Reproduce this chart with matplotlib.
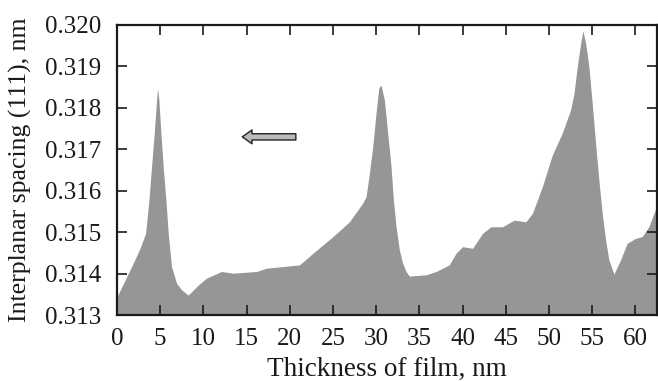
import matplotlib
matplotlib.use("Agg")
import matplotlib.pyplot as plt

thickness = [0.0, 1.88, 2.66, 3.31, 3.70, 4.00, 4.31, 4.58, 4.70, 4.85, 5.08, 5.35,
             5.66, 5.93, 6.31, 6.89, 7.47, 8.24, 9.39, 10.35, 12.09, 13.43, 16.13,
             17.28, 21.13, 22.67, 24.98, 26.9, 28.44, 28.83, 29.21, 29.60, 29.98,
             30.29, 30.56, 30.95, 31.33, 31.72, 31.99, 32.30, 32.68, 33.06, 33.45,
             33.83, 35.76, 36.92, 38.45, 39.23, 39.99, 41.15, 42.3, 43.27, 44.61,
             45.96, 47.31, 48.07, 49.23, 50.38, 51.53, 52.5, 52.89, 53.27, 53.66,
             53.93, 54.24, 54.62, 55.0, 55.39, 55.77, 56.16, 56.55, 56.93, 57.51,
             58.28, 59.04, 60.01, 60.77, 61.55, 62.5]
spacing = [0.31344, 0.31425, 0.31461, 0.31497, 0.31578, 0.31658, 0.31739, 0.31819,
           0.31847, 0.31819, 0.31739, 0.31658, 0.31578, 0.31497, 0.31417, 0.31377,
           0.31361, 0.31348, 0.31372, 0.31389, 0.31405, 0.31401, 0.31405, 0.31413,
           0.31421, 0.31449, 0.31489, 0.31525, 0.31570, 0.31586, 0.31642, 0.31706,
           0.31787, 0.31847, 0.31855, 0.31819, 0.31739, 0.31658, 0.31578, 0.31513,
           0.31457, 0.31425, 0.31405, 0.31394, 0.31397, 0.31405, 0.31421, 0.31449,
           0.31465, 0.31461, 0.31497, 0.31513, 0.31513, 0.31529, 0.31525, 0.31545,
           0.31610, 0.31686, 0.31739, 0.31795, 0.31835, 0.31899, 0.31956, 0.31986,
           0.31956, 0.31899, 0.31811, 0.31714, 0.31626, 0.31545, 0.31481, 0.31433,
           0.31399, 0.31433, 0.31473, 0.31485, 0.31489, 0.31513, 0.31565]
x_ticks = [0, 5, 10, 15, 20, 25, 30, 35, 40, 45, 50, 55, 60]
y_ticks = [0.313, 0.314, 0.315, 0.316, 0.317, 0.318, 0.319, 0.320]
arrow_tail = (20.7, 0.3173)
arrow_head = (14.5, 0.3173)

plt.rcParams['font.family'] = ['Liberation Serif', 'DejaVu Serif']
fig = plt.figure(figsize=(6.58, 3.81), dpi=100)
ax = fig.add_axes([0.1778, 0.1732, 0.8207, 0.7612])

ax.fill_between(thickness, 0.313, spacing, color='#969696', linewidth=0)
ax.set_xlim(0, 62.5)
ax.set_ylim(0.313, 0.320)
ax.set_xticks(x_ticks)
ax.set_yticks(y_ticks)
ax.set_yticklabels([f"{v:.3f}" for v in y_ticks])
ax.tick_params(direction='in', length=7, width=1.2, top=True, right=True,
               labelsize=18, colors='#1a1a1a')
ax.tick_params(axis='x', pad=9)
ax.tick_params(axis='y', pad=11.5)
for s in ax.spines.values():
    s.set_linewidth(1.6)
    s.set_color('#1a1a1a')

ax.set_xlabel("Thickness of film, nm", fontsize=19.5, color='#1a1a1a')
ax.set_ylabel("Interplanar spacing (111), nm", fontsize=18.5, color='#1a1a1a')
ax.xaxis.set_label_coords(0.5, -0.145)
ax.yaxis.set_label_coords(-0.158, 0.5)

ax.annotate('', xy=arrow_head, xytext=arrow_tail,
            arrowprops=dict(arrowstyle='simple,head_width=1.0,head_length=0.7,tail_width=0.45',
                            fc='#b9b9b9', ec='#222222', lw=1.0, shrinkA=0, shrinkB=0))

fig.savefig('out.png', dpi=100)
